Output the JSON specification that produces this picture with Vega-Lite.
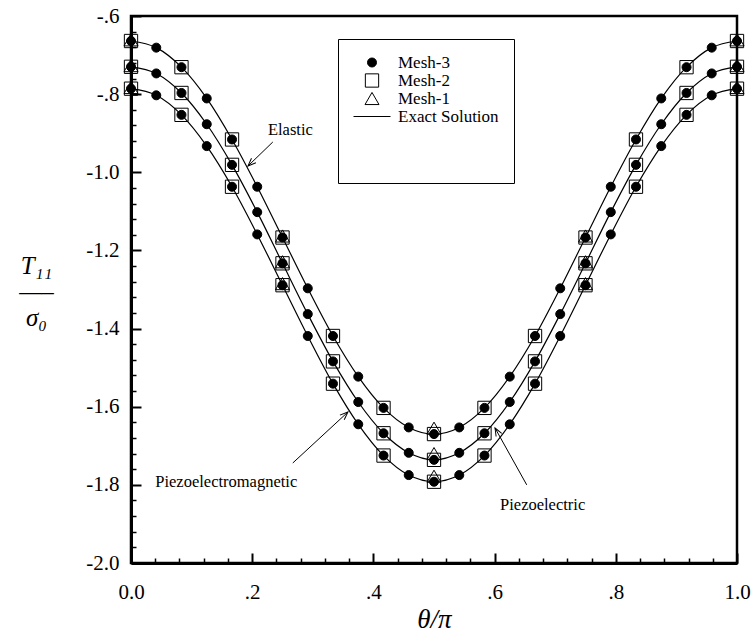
{
  "$schema": "https://vega.github.io/schema/vega-lite/v6.json",
  "width": 606,
  "height": 547,
  "autosize": {"type": "none"},
  "padding": {"left": 131, "top": 16, "right": 15, "bottom": 75},
  "background": "white",
  "config": {
    "font": "Liberation Serif",
    "view": {"stroke": "black", "strokeWidth": 2.5},
    "axis": {
      "labelFont": "Liberation Serif",
      "titleFont": "Liberation Serif",
      "labelColor": "black",
      "titleColor": "black",
      "domainColor": "black",
      "domainWidth": 3,
      "tickColor": "black",
      "grid": false,
      "labelFlush": false,
      "labelOverlap": false,
      "labelFontSize": 21,
      "titleFontWeight": "normal"
    },
    "legend": {
      "orient": "none",
      "legendX": 207,
      "legendY": 23,
      "titleOrient": "bottom",
      "titleFontSize": 36,
      "titlePadding": 8,
      "columns": 1,
      "clipHeight": 17,
      "rowPadding": 0,
      "padding": 15,
      "strokeColor": "black",
      "fillColor": "white",
      "labelFont": "Liberation Serif",
      "labelFontSize": 17,
      "labelColor": "black",
      "labelOffset": 7,
      "symbolStrokeWidth": 1,
      "symbolStrokeColor": "black"
    }
  },
  "resolve": {"axis": {"x": "independent", "y": "independent"}},
  "datasets": {
    "pts": [
      {"mesh": "Mesh-2", "curve": "Elastic", "t": 0, "v": -0.664},
      {"mesh": "Mesh-2", "curve": "Elastic", "t": 0.0833, "v": -0.731},
      {"mesh": "Mesh-2", "curve": "Elastic", "t": 0.1667, "v": -0.916},
      {"mesh": "Mesh-2", "curve": "Elastic", "t": 0.25, "v": -1.167},
      {"mesh": "Mesh-2", "curve": "Elastic", "t": 0.3333, "v": -1.419},
      {"mesh": "Mesh-2", "curve": "Elastic", "t": 0.4167, "v": -1.603},
      {"mesh": "Mesh-2", "curve": "Elastic", "t": 0.5, "v": -1.670},
      {"mesh": "Mesh-2", "curve": "Elastic", "t": 0.5833, "v": -1.603},
      {"mesh": "Mesh-2", "curve": "Elastic", "t": 0.6667, "v": -1.419},
      {"mesh": "Mesh-2", "curve": "Elastic", "t": 0.75, "v": -1.167},
      {"mesh": "Mesh-2", "curve": "Elastic", "t": 0.8333, "v": -0.916},
      {"mesh": "Mesh-2", "curve": "Elastic", "t": 0.9167, "v": -0.731},
      {"mesh": "Mesh-2", "curve": "Elastic", "t": 1, "v": -0.664},
      {"mesh": "Mesh-2", "curve": "Piezoelectric", "t": 0, "v": -0.730},
      {"mesh": "Mesh-2", "curve": "Piezoelectric", "t": 0.0833, "v": -0.797},
      {"mesh": "Mesh-2", "curve": "Piezoelectric", "t": 0.1667, "v": -0.981},
      {"mesh": "Mesh-2", "curve": "Piezoelectric", "t": 0.25, "v": -1.233},
      {"mesh": "Mesh-2", "curve": "Piezoelectric", "t": 0.3333, "v": -1.484},
      {"mesh": "Mesh-2", "curve": "Piezoelectric", "t": 0.4167, "v": -1.668},
      {"mesh": "Mesh-2", "curve": "Piezoelectric", "t": 0.5, "v": -1.736},
      {"mesh": "Mesh-2", "curve": "Piezoelectric", "t": 0.5833, "v": -1.668},
      {"mesh": "Mesh-2", "curve": "Piezoelectric", "t": 0.6667, "v": -1.484},
      {"mesh": "Mesh-2", "curve": "Piezoelectric", "t": 0.75, "v": -1.233},
      {"mesh": "Mesh-2", "curve": "Piezoelectric", "t": 0.8333, "v": -0.981},
      {"mesh": "Mesh-2", "curve": "Piezoelectric", "t": 0.9167, "v": -0.797},
      {"mesh": "Mesh-2", "curve": "Piezoelectric", "t": 1, "v": -0.730},
      {"mesh": "Mesh-2", "curve": "Piezoelectromagnetic", "t": 0, "v": -0.786},
      {"mesh": "Mesh-2", "curve": "Piezoelectromagnetic", "t": 0.0833, "v": -0.853},
      {"mesh": "Mesh-2", "curve": "Piezoelectromagnetic", "t": 0.1667, "v": -1.037},
      {"mesh": "Mesh-2", "curve": "Piezoelectromagnetic", "t": 0.25, "v": -1.289},
      {"mesh": "Mesh-2", "curve": "Piezoelectromagnetic", "t": 0.3333, "v": -1.541},
      {"mesh": "Mesh-2", "curve": "Piezoelectromagnetic", "t": 0.4167, "v": -1.725},
      {"mesh": "Mesh-2", "curve": "Piezoelectromagnetic", "t": 0.5, "v": -1.792},
      {"mesh": "Mesh-2", "curve": "Piezoelectromagnetic", "t": 0.5833, "v": -1.725},
      {"mesh": "Mesh-2", "curve": "Piezoelectromagnetic", "t": 0.6667, "v": -1.541},
      {"mesh": "Mesh-2", "curve": "Piezoelectromagnetic", "t": 0.75, "v": -1.289},
      {"mesh": "Mesh-2", "curve": "Piezoelectromagnetic", "t": 0.8333, "v": -1.037},
      {"mesh": "Mesh-2", "curve": "Piezoelectromagnetic", "t": 0.9167, "v": -0.853},
      {"mesh": "Mesh-2", "curve": "Piezoelectromagnetic", "t": 1, "v": -0.786},

      {"mesh": "Mesh-1", "curve": "Elastic", "t": 0, "v": -0.661},
      {"mesh": "Mesh-1", "curve": "Elastic", "t": 0.25, "v": -1.163},
      {"mesh": "Mesh-1", "curve": "Elastic", "t": 0.5, "v": -1.655},
      {"mesh": "Mesh-1", "curve": "Elastic", "t": 0.75, "v": -1.163},
      {"mesh": "Mesh-1", "curve": "Elastic", "t": 1, "v": -0.661},
      {"mesh": "Mesh-1", "curve": "Piezoelectric", "t": 0, "v": -0.727},
      {"mesh": "Mesh-1", "curve": "Piezoelectric", "t": 0.25, "v": -1.229},
      {"mesh": "Mesh-1", "curve": "Piezoelectric", "t": 0.5, "v": -1.720},
      {"mesh": "Mesh-1", "curve": "Piezoelectric", "t": 0.75, "v": -1.229},
      {"mesh": "Mesh-1", "curve": "Piezoelectric", "t": 1, "v": -0.727},
      {"mesh": "Mesh-1", "curve": "Piezoelectromagnetic", "t": 0, "v": -0.783},
      {"mesh": "Mesh-1", "curve": "Piezoelectromagnetic", "t": 0.25, "v": -1.285},
      {"mesh": "Mesh-1", "curve": "Piezoelectromagnetic", "t": 0.5, "v": -1.778},
      {"mesh": "Mesh-1", "curve": "Piezoelectromagnetic", "t": 0.75, "v": -1.285},
      {"mesh": "Mesh-1", "curve": "Piezoelectromagnetic", "t": 1, "v": -0.783},

      {"mesh": "Mesh-3", "curve": "Elastic", "t": 0, "v": -0.664},
      {"mesh": "Mesh-3", "curve": "Elastic", "t": 0.0417, "v": -0.681},
      {"mesh": "Mesh-3", "curve": "Elastic", "t": 0.0833, "v": -0.731},
      {"mesh": "Mesh-3", "curve": "Elastic", "t": 0.125, "v": -0.811},
      {"mesh": "Mesh-3", "curve": "Elastic", "t": 0.1667, "v": -0.916},
      {"mesh": "Mesh-3", "curve": "Elastic", "t": 0.2083, "v": -1.037},
      {"mesh": "Mesh-3", "curve": "Elastic", "t": 0.25, "v": -1.167},
      {"mesh": "Mesh-3", "curve": "Elastic", "t": 0.2917, "v": -1.297},
      {"mesh": "Mesh-3", "curve": "Elastic", "t": 0.3333, "v": -1.419},
      {"mesh": "Mesh-3", "curve": "Elastic", "t": 0.375, "v": -1.523},
      {"mesh": "Mesh-3", "curve": "Elastic", "t": 0.4167, "v": -1.603},
      {"mesh": "Mesh-3", "curve": "Elastic", "t": 0.4583, "v": -1.653},
      {"mesh": "Mesh-3", "curve": "Elastic", "t": 0.5, "v": -1.670},
      {"mesh": "Mesh-3", "curve": "Elastic", "t": 0.5417, "v": -1.653},
      {"mesh": "Mesh-3", "curve": "Elastic", "t": 0.5833, "v": -1.603},
      {"mesh": "Mesh-3", "curve": "Elastic", "t": 0.625, "v": -1.523},
      {"mesh": "Mesh-3", "curve": "Elastic", "t": 0.6667, "v": -1.419},
      {"mesh": "Mesh-3", "curve": "Elastic", "t": 0.7083, "v": -1.297},
      {"mesh": "Mesh-3", "curve": "Elastic", "t": 0.75, "v": -1.167},
      {"mesh": "Mesh-3", "curve": "Elastic", "t": 0.7917, "v": -1.037},
      {"mesh": "Mesh-3", "curve": "Elastic", "t": 0.8333, "v": -0.916},
      {"mesh": "Mesh-3", "curve": "Elastic", "t": 0.875, "v": -0.811},
      {"mesh": "Mesh-3", "curve": "Elastic", "t": 0.9167, "v": -0.731},
      {"mesh": "Mesh-3", "curve": "Elastic", "t": 0.9583, "v": -0.681},
      {"mesh": "Mesh-3", "curve": "Elastic", "t": 1, "v": -0.664},
      {"mesh": "Mesh-3", "curve": "Piezoelectric", "t": 0, "v": -0.730},
      {"mesh": "Mesh-3", "curve": "Piezoelectric", "t": 0.0417, "v": -0.747},
      {"mesh": "Mesh-3", "curve": "Piezoelectric", "t": 0.0833, "v": -0.797},
      {"mesh": "Mesh-3", "curve": "Piezoelectric", "t": 0.125, "v": -0.877},
      {"mesh": "Mesh-3", "curve": "Piezoelectric", "t": 0.1667, "v": -0.981},
      {"mesh": "Mesh-3", "curve": "Piezoelectric", "t": 0.2083, "v": -1.102},
      {"mesh": "Mesh-3", "curve": "Piezoelectric", "t": 0.25, "v": -1.233},
      {"mesh": "Mesh-3", "curve": "Piezoelectric", "t": 0.2917, "v": -1.363},
      {"mesh": "Mesh-3", "curve": "Piezoelectric", "t": 0.3333, "v": -1.484},
      {"mesh": "Mesh-3", "curve": "Piezoelectric", "t": 0.375, "v": -1.588},
      {"mesh": "Mesh-3", "curve": "Piezoelectric", "t": 0.4167, "v": -1.668},
      {"mesh": "Mesh-3", "curve": "Piezoelectric", "t": 0.4583, "v": -1.718},
      {"mesh": "Mesh-3", "curve": "Piezoelectric", "t": 0.5, "v": -1.736},
      {"mesh": "Mesh-3", "curve": "Piezoelectric", "t": 0.5417, "v": -1.718},
      {"mesh": "Mesh-3", "curve": "Piezoelectric", "t": 0.5833, "v": -1.668},
      {"mesh": "Mesh-3", "curve": "Piezoelectric", "t": 0.625, "v": -1.588},
      {"mesh": "Mesh-3", "curve": "Piezoelectric", "t": 0.6667, "v": -1.484},
      {"mesh": "Mesh-3", "curve": "Piezoelectric", "t": 0.7083, "v": -1.363},
      {"mesh": "Mesh-3", "curve": "Piezoelectric", "t": 0.75, "v": -1.233},
      {"mesh": "Mesh-3", "curve": "Piezoelectric", "t": 0.7917, "v": -1.102},
      {"mesh": "Mesh-3", "curve": "Piezoelectric", "t": 0.8333, "v": -0.981},
      {"mesh": "Mesh-3", "curve": "Piezoelectric", "t": 0.875, "v": -0.877},
      {"mesh": "Mesh-3", "curve": "Piezoelectric", "t": 0.9167, "v": -0.797},
      {"mesh": "Mesh-3", "curve": "Piezoelectric", "t": 0.9583, "v": -0.747},
      {"mesh": "Mesh-3", "curve": "Piezoelectric", "t": 1, "v": -0.730},
      {"mesh": "Mesh-3", "curve": "Piezoelectromagnetic", "t": 0, "v": -0.786},
      {"mesh": "Mesh-3", "curve": "Piezoelectromagnetic", "t": 0.0417, "v": -0.803},
      {"mesh": "Mesh-3", "curve": "Piezoelectromagnetic", "t": 0.0833, "v": -0.853},
      {"mesh": "Mesh-3", "curve": "Piezoelectromagnetic", "t": 0.125, "v": -0.933},
      {"mesh": "Mesh-3", "curve": "Piezoelectromagnetic", "t": 0.1667, "v": -1.037},
      {"mesh": "Mesh-3", "curve": "Piezoelectromagnetic", "t": 0.2083, "v": -1.159},
      {"mesh": "Mesh-3", "curve": "Piezoelectromagnetic", "t": 0.25, "v": -1.289},
      {"mesh": "Mesh-3", "curve": "Piezoelectromagnetic", "t": 0.2917, "v": -1.419},
      {"mesh": "Mesh-3", "curve": "Piezoelectromagnetic", "t": 0.3333, "v": -1.541},
      {"mesh": "Mesh-3", "curve": "Piezoelectromagnetic", "t": 0.375, "v": -1.645},
      {"mesh": "Mesh-3", "curve": "Piezoelectromagnetic", "t": 0.4167, "v": -1.725},
      {"mesh": "Mesh-3", "curve": "Piezoelectromagnetic", "t": 0.4583, "v": -1.775},
      {"mesh": "Mesh-3", "curve": "Piezoelectromagnetic", "t": 0.5, "v": -1.792},
      {"mesh": "Mesh-3", "curve": "Piezoelectromagnetic", "t": 0.5417, "v": -1.775},
      {"mesh": "Mesh-3", "curve": "Piezoelectromagnetic", "t": 0.5833, "v": -1.725},
      {"mesh": "Mesh-3", "curve": "Piezoelectromagnetic", "t": 0.625, "v": -1.645},
      {"mesh": "Mesh-3", "curve": "Piezoelectromagnetic", "t": 0.6667, "v": -1.541},
      {"mesh": "Mesh-3", "curve": "Piezoelectromagnetic", "t": 0.7083, "v": -1.419},
      {"mesh": "Mesh-3", "curve": "Piezoelectromagnetic", "t": 0.75, "v": -1.289},
      {"mesh": "Mesh-3", "curve": "Piezoelectromagnetic", "t": 0.7917, "v": -1.159},
      {"mesh": "Mesh-3", "curve": "Piezoelectromagnetic", "t": 0.8333, "v": -1.037},
      {"mesh": "Mesh-3", "curve": "Piezoelectromagnetic", "t": 0.875, "v": -0.933},
      {"mesh": "Mesh-3", "curve": "Piezoelectromagnetic", "t": 0.9167, "v": -0.853},
      {"mesh": "Mesh-3", "curve": "Piezoelectromagnetic", "t": 0.9583, "v": -0.803},
      {"mesh": "Mesh-3", "curve": "Piezoelectromagnetic", "t": 1, "v": -0.786}
    ],
    "notes": [
      {"label": "Elastic", "tx": 0.226, "ty": -0.892, "ax": 0.234, "ay": -0.9225, "hx": 0.193, "hy": -0.984},
      {"label": "Piezoelectromagnetic", "tx": 0.040, "ty": -1.793, "ax": 0.267, "ay": -1.744, "hx": 0.358, "hy": -1.6136},
      {"label": "Piezoelectric", "tx": 0.609, "ty": -1.852, "ax": 0.653, "ay": -1.800, "hx": 0.6007, "hy": -1.6545}
    ]
  },
  "layer": [
    {
      "data": {"name": "pts"},
      "transform": [{"filter": "datum.mesh === 'Mesh-3'"}],
      "mark": {"type": "line", "interpolate": "monotone", "color": "black", "strokeWidth": 1.2},
      "encoding": {
        "x": {
          "field": "t",
          "type": "quantitative",
          "scale": {"domain": [0, 1], "nice": false, "zero": false},
          "axis": {
            "orient": "bottom",
            "values": [0, 0.2, 0.4, 0.6, 0.8, 1],
            "labelExpr": "datum.value == 0 ? '0.0' : datum.value == 1 ? '1.0' : replace(format(datum.value,'.1f'),'0.','.')",
            "labelOverlap": false,
            "tickSize": -10,
            "tickWidth": 2,
            "labelPadding": 28,
            "title": "θ/π",
            "titleFontSize": 27,
            "titleFontStyle": "italic",
            "titlePadding": 4
          }
        },
        "y": {
          "field": "v",
          "type": "quantitative",
          "scale": {"domain": [-2, -0.6], "nice": false, "zero": false},
          "axis": {
            "orient": "left",
            "values": [-2, -1.8, -1.6, -1.4, -1.2, -1, -0.8, -0.6],
            "labelExpr": "'-' + replace(format(abs(datum.value),'.1f'),'0.','.')",
            "labelOverlap": false,
            "tickSize": -10,
            "tickWidth": 2,
            "labelPadding": 22,
            "title": ["T₁₁", "—–", "σ₀"],
            "titleAngle": 0,
            "titleFontSize": 25,
            "titleFontStyle": "italic",
            "titleLineHeight": 26,
            "titleAlign": "center",
            "titleBaseline": "alphabetic",
            "titleX": -95,
            "titleY": 257
          }
        },
        "detail": {"field": "curve"}
      }
    },
    {
      "data": {"name": "pts"},
      "mark": {"type": "point", "strokeWidth": 1, "opacity": 1},
      "encoding": {
        "x": {
          "field": "t",
          "type": "quantitative",
          "axis": {
            "orient": "bottom",
            "values": [0.04, 0.08, 0.12, 0.16, 0.24, 0.28, 0.32, 0.36, 0.44, 0.48, 0.52, 0.56, 0.64, 0.68, 0.72, 0.76, 0.84, 0.88, 0.92, 0.96],
            "labels": false,
            "domain": false,
            "tickSize": -5,
            "tickWidth": 1.5,
            "title": null
          }
        },
        "y": {
          "field": "v",
          "type": "quantitative",
          "axis": {
            "orient": "left",
            "values": [-1.96, -1.92, -1.88, -1.84, -1.76, -1.72, -1.68, -1.64, -1.56, -1.52, -1.48, -1.44, -1.36, -1.32, -1.28, -1.24, -1.16, -1.12, -1.08, -1.04, -0.96, -0.92, -0.88, -0.84, -0.76, -0.72, -0.68, -0.64],
            "labels": false,
            "domain": false,
            "tickSize": -5,
            "tickWidth": 1.5,
            "title": null
          }
        },
        "shape": {
          "field": "mesh",
          "type": "nominal",
          "title": " ",
          "scale": {"domain": ["Mesh-3", "Mesh-2", "Mesh-1", "Exact Solution"], "range": ["circle", "square", "triangle-up", "M-1,0L1,0"]}
        },
        "fill": {
          "field": "mesh",
          "type": "nominal",
          "title": " ",
          "scale": {"domain": ["Mesh-3", "Mesh-2", "Mesh-1", "Exact Solution"], "range": ["black", "transparent", "transparent", "transparent"]}
        },
        "stroke": {
          "field": "mesh",
          "type": "nominal",
          "title": " ",
          "scale": {"domain": ["Mesh-3", "Mesh-2", "Mesh-1", "Exact Solution"], "range": ["black", "black", "black", "black"]}
        },
        "size": {
          "field": "mesh",
          "type": "nominal",
          "title": " ",
          "scale": {"type": "ordinal", "domain": ["Mesh-3", "Mesh-2", "Mesh-1", "Exact Solution"], "range": [81, 177, 196, 1369]}
        }
      }
    },
    {
      "data": {"name": "notes"},
      "mark": {"type": "rule", "color": "black", "strokeWidth": 1},
      "encoding": {
        "x": {"field": "ax", "type": "quantitative", "axis": null},
        "y": {"field": "ay", "type": "quantitative", "axis": null},
        "x2": {"field": "hx"},
        "y2": {"field": "hy"}
      }
    },
    {
      "data": {"name": "notes"},
      "mark": {
        "type": "point",
        "shape": "M-0.4,1L0,0L0.4,1",
        "filled": false,
        "stroke": "black",
        "strokeWidth": 1,
        "opacity": 1,
        "size": 256,
        "angle": {"expr": "atan2(scale('x', datum.hx) - scale('x', datum.ax), scale('y', datum.ay) - scale('y', datum.hy)) * 180 / PI"}
      },
      "encoding": {
        "x": {"field": "hx", "type": "quantitative", "axis": null},
        "y": {"field": "hy", "type": "quantitative", "axis": null}
      }
    },
    {
      "data": {"name": "notes"},
      "mark": {"type": "text", "align": "left", "baseline": "middle", "font": "Liberation Serif", "fontSize": 16.5, "color": "black"},
      "encoding": {
        "x": {"field": "tx", "type": "quantitative", "axis": null},
        "y": {"field": "ty", "type": "quantitative", "axis": null},
        "text": {"field": "label"}
      }
    }
  ]
}
